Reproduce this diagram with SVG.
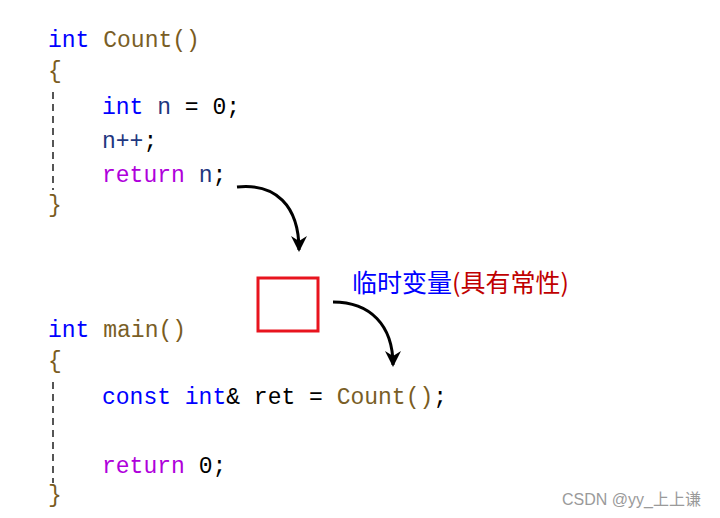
<svg xmlns="http://www.w3.org/2000/svg" width="720" height="518" viewBox="0 0 720 518">
<defs>
<style>
.code{font-family:"Liberation Mono","DejaVu Sans Mono",monospace;font-size:23px;}
.kw{fill:#0000ff}.fn{fill:#795e26}.br{fill:#7a5c1e}.var{fill:#1f377f}.ret{fill:#af00db}.pl{fill:#000}
.dash{stroke:#555;stroke-width:2;stroke-dasharray:7 5;fill:none}
.arrow{stroke:#000;stroke-width:3;fill:none}
</style>
<marker id="ah" viewBox="0 0 16 16" refX="14" refY="8" markerWidth="16" markerHeight="16" markerUnits="userSpaceOnUse" orient="auto">
<path d="M0,0 L16,8 L0,16 L5,8 Z" fill="#000"/>
</marker>
</defs>
<rect width="720" height="518" fill="#fff"/>
<g id="count-func">
<text class="code" x="48" y="47"><tspan class="kw">int</tspan> <tspan class="fn">Count</tspan><tspan class="br">()</tspan></text>
<text class="code br" x="48" y="78">{</text>
<line class="dash" x1="53" y1="92" x2="53" y2="190"/>
<text class="code" x="102" y="114"><tspan class="kw">int</tspan> <tspan class="var">n</tspan> <tspan class="pl">= 0;</tspan></text>
<text class="code" x="102" y="148"><tspan class="var">n++</tspan><tspan class="pl">;</tspan></text>
<text class="code" x="102" y="182"><tspan class="ret">return</tspan> <tspan class="var">n</tspan><tspan class="pl">;</tspan></text>
<text class="code br" x="48" y="212">}</text>
</g>
<g id="main-func">
<text class="code" x="48" y="337"><tspan class="kw">int</tspan> <tspan class="fn">main</tspan><tspan class="br">()</tspan></text>
<text class="code br" x="48" y="368">{</text>
<line class="dash" x1="53" y1="382" x2="53" y2="483"/>
<text class="code" x="102" y="404"><tspan class="kw">const int</tspan><tspan class="pl">&amp; ret = </tspan><tspan class="fn">Count</tspan><tspan class="br">()</tspan><tspan class="pl">;</tspan></text>
<text class="code" x="102" y="473"><tspan class="ret">return</tspan> <tspan class="pl">0;</tspan></text>
<text class="code br" x="48" y="502">}</text>
</g>
<g id="temp-var">
<rect x="258" y="278" width="60" height="53" fill="none" stroke="#e8141e" stroke-width="3"/>
<text x="352" y="292" style="font-family:'Noto Sans CJK SC','Noto Sans',sans-serif;font-size:25px"><tspan fill="#0000ff">临时变量</tspan><tspan fill="#c00000">(具有常性)</tspan></text>
</g>
<g id="connectors">
<path class="arrow" d="M237,187 C275,183 299,205 299,250" marker-end="url(#ah)"/>
<path class="arrow" d="M333,302 C370,302 393,325 393,365" marker-end="url(#ah)"/>
</g>
<text x="562" y="505" style="font-family:'Liberation Sans','Noto Sans CJK SC',sans-serif;font-size:16px" fill="#9a9a9a">CSDN @yy_上上谦</text>
</svg>
